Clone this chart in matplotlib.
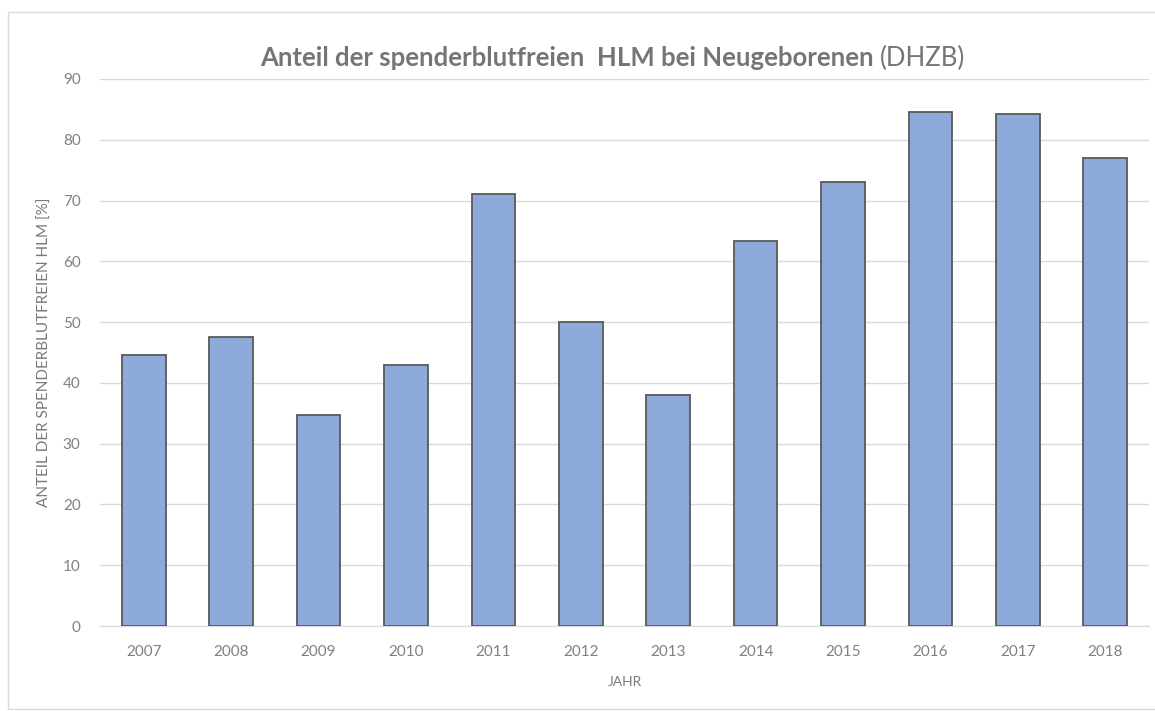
import matplotlib
matplotlib.use('Agg')
import matplotlib.pyplot as plt
from matplotlib.patches import Rectangle

plt.rcParams['font.family'] = ['Lato', 'DejaVu Sans']

jahre = ['2007', '2008', '2009', '2010', '2011', '2012',
         '2013', '2014', '2015', '2016', '2017', '2018']
anteil = [44.6, 47.6, 34.7, 42.9, 71.0, 50.0,
          38.0, 63.3, 73.0, 84.6, 84.3, 77.0]

grau = '#7a7a7a'

fig = plt.figure(figsize=(11.55, 7.11), dpi=100)
ax = fig.add_axes([100 / 1155, 85 / 711, 1049 / 1155, 547 / 711])

# Rahmen um das ganze Diagramm
fig.patches.append(Rectangle((8 / 1155, 2 / 711), 1.2, (711 - 14) / 711,
                             transform=fig.transFigure, fill=False,
                             edgecolor='#d9d9d9', linewidth=1))

ax.bar(jahre, anteil, width=0.5, color='#8eaadb', edgecolor='#595959',
       linewidth=1.3, zorder=3)

ax.set_ylim(0, 90)
ax.set_yticks(range(0, 91, 10))
ax.set_xlim(-0.5, len(jahre) - 0.5)
ax.grid(axis='y', color='#d9d9d9', linewidth=1, zorder=0)
for s in ['top', 'right', 'left']:
    ax.spines[s].set_visible(False)
ax.spines['bottom'].set_color('#d9d9d9')
ax.tick_params(axis='both', length=0, colors='#808080', labelsize=11)
ax.tick_params(axis='x', pad=14)
ax.tick_params(axis='y', pad=14)

ax.set_xlabel('JAHR', color=grau, fontsize=10, labelpad=12)
ax.set_ylabel('ANTEIL DER SPENDERBLUTFREIEN HLM [%]', color=grau,
              fontsize=11, labelpad=8)

# Titel: fetter Teil + normaler Zusatz
titel_x = 880 / 1155
titel_y = 1 - 58 / 711
fig.text(titel_x, titel_y, 'Anteil der spenderblutfreien  HLM bei Neugeborenen ',
         ha='right', va='center', color='#757575', fontsize=18.5, fontweight='bold')
fig.text(titel_x, titel_y, '(DHZB)', ha='left', va='center',
         color='#757575', fontsize=18.5)

fig.savefig('out.png', dpi=100)
